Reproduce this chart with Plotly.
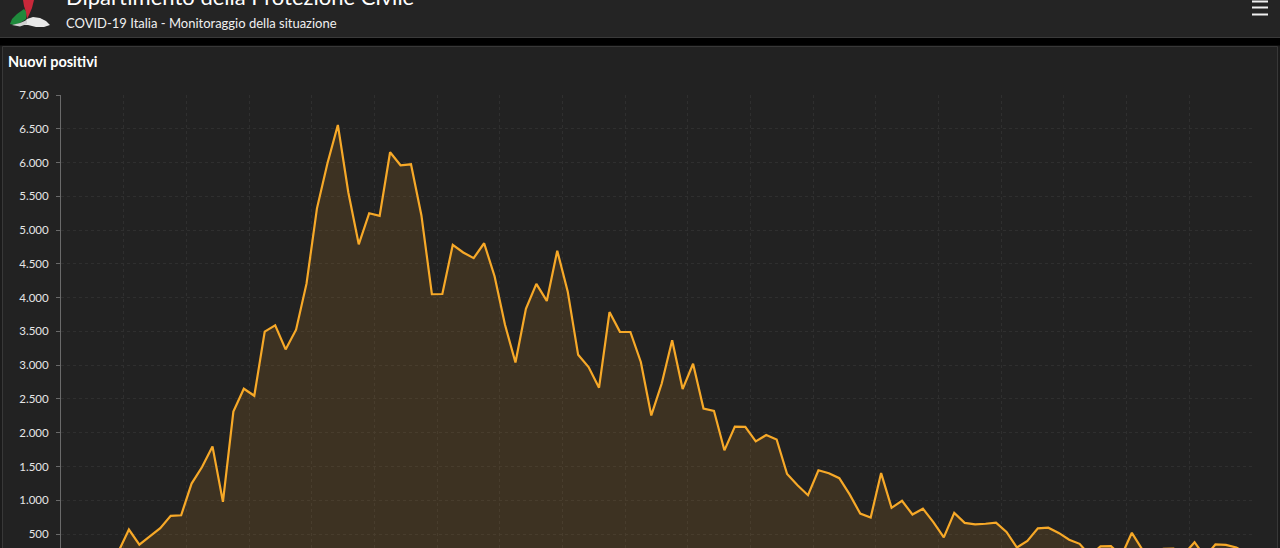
import plotly.graph_objects as go
import pandas as pd

# ---------------- data ----------------
start_date = "2020-02-24"
end_date = "2020-06-16"
dates = pd.date_range(start_date, end_date, freq="D").strftime("%Y-%m-%d").tolist()

nuovi_positivi = [
    221, 93, 78, 250, 238, 240,                                   # Feb 24-29
    566, 342, 466, 587, 769, 778, 1247, 1492, 1797, 977,          # Mar 1-10
    2313, 2651, 2547, 3497, 3590, 3233, 3526, 4207, 5322, 5986,   # Mar 11-20
    6557, 5560, 4789, 5249, 5210, 6153, 5959, 5974, 5217, 4050,   # Mar 21-30
    4053,                                                         # Mar 31
    4782, 4668, 4585, 4805, 4316, 3599, 3039, 3836, 4204, 3951,   # Apr 1-10
    4694, 4092, 3153, 2972, 2667, 3786, 3493, 3491, 3047, 2256,   # Apr 11-20
    2729, 3370, 2646, 3021, 2357, 2324, 1739, 2091, 2086, 1872,   # Apr 21-30
    1965, 1900, 1389, 1221, 1075, 1444, 1401, 1327, 1083, 802,    # May 1-10
    744, 1402, 888, 992, 789, 875, 675, 451, 813, 665,            # May 11-20
    642, 652, 669, 531, 300, 397, 584, 593, 516, 416, 355,        # May 21-31
    178, 318, 321, 177, 518, 270, 197, 280, 283, 202,             # Jun 1-10
    379, 163, 346, 338, 301, 210,                                 # Jun 11-16
]

y_ticks = list(range(500, 7001, 500))

header_title = "Dipartimento della Protezione Civile"
header_subtitle = "COVID-19 Italia - Monitoraggio della situazione"
panel_title = "Nuovi positivi"

# ---------------- layout helpers (pixel -> paper) ----------------
W, H = 1280, 548
L, R, T, B = 61, 1252, 95, 548


def px(x):
    return (x - L) / (R - L)


def py(y):
    return (B - y) / (B - T)


def path(points):
    s = "M " + " L ".join(f"{px(x):.5f},{py(y):.5f}" for x, y in points) + " Z"
    return s


shapes = []
# header background
shapes.append(dict(type="rect", xref="paper", yref="paper", layer="below",
                   x0=px(-2), x1=px(W + 2), y0=py(37), y1=py(-2),
                   fillcolor="#242424", line=dict(width=0)))
shapes.append(dict(type="line", xref="paper", yref="paper", layer="below",
                   x0=px(0), x1=px(W), y0=py(37.5), y1=py(37.5),
                   line=dict(color="#3a3a3a", width=1)))
# black band
shapes.append(dict(type="rect", xref="paper", yref="paper", layer="below",
                   x0=px(-2), x1=px(W + 2), y0=py(45.5), y1=py(38),
                   fillcolor="#000000", line=dict(width=0)))
# panel
shapes.append(dict(type="rect", xref="paper", yref="paper", layer="below",
                   x0=px(2.5), x1=px(1277.5), y0=py(570), y1=py(46.5),
                   fillcolor="#222222", line=dict(color="#383838", width=1)))
# hamburger icon
for yy in (1.5, 7.5, 14.5):
    shapes.append(dict(type="line", xref="paper", yref="paper",
                       x0=px(1252), x1=px(1268), y0=py(yy), y1=py(yy),
                       line=dict(color="#f0f0f0", width=2)))
# logo (approximate)
shapes.append(dict(type="path", xref="paper", yref="paper",
                   path=path([(10, 24), (12, 19), (17, 14), (24, 9), (27, 12), (26, 19), (20, 23), (14, 25)]),
                   fillcolor="#1f8a3c", line=dict(width=0)))
shapes.append(dict(type="path", xref="paper", yref="paper",
                   path=path([(23, 0), (34, 0), (32, 8), (29, 15), (27, 19), (26, 12), (24, 6)]),
                   fillcolor="#c8283a", line=dict(width=0)))
shapes.append(dict(type="path", xref="paper", yref="paper",
                   path=path([(27, 19), (33, 17), (40, 18), (46, 21), (50, 25), (44, 27), (36, 27), (28, 25), (22, 25)]),
                   fillcolor="#e8e8e8", line=dict(width=0)))
shapes.append(dict(type="path", xref="paper", yref="paper",
                   path=path([(12, 25), (20, 23), (27, 20), (27, 24), (20, 26.5)]),
                   fillcolor="#d0d0d0", line=dict(width=0)))

annotations = [
    dict(text=header_title, xref="paper", yref="paper", x=px(64), y=py(-4),
         xanchor="left", yanchor="middle", showarrow=False,
         font=dict(family="Lato, Open Sans, sans-serif", size=22, color="#ffffff")),
    dict(text=header_subtitle, xref="paper", yref="paper", x=px(64), y=py(23),
         xanchor="left", yanchor="middle", showarrow=False,
         font=dict(family="Lato, Open Sans, sans-serif", size=13, color="#f0f0f0")),
    dict(text="<b>" + panel_title + "</b>", xref="paper", yref="paper", x=px(6), y=py(61),
         xanchor="left", yanchor="middle", showarrow=False,
         font=dict(family="Lato, Open Sans, sans-serif", size=14.5, color="#ffffff")),
]

fig = go.Figure()
fig.add_trace(go.Scatter(
    x=dates, y=nuovi_positivi, mode="lines",
    line=dict(color="#f7a928", width=2.2),
    fill="tozeroy", fillcolor="rgba(245,166,35,0.13)",
    hoverinfo="x+y", showlegend=False,
))

fig.update_layout(
    width=W, height=H, autosize=False,
    margin=dict(l=L, r=W - R, t=T, b=H - B, pad=0),
    paper_bgcolor="#1b1b1b", plot_bgcolor="#222222",
    separators=",.",
    shapes=shapes, annotations=annotations,
    font=dict(family="Lato, Open Sans, sans-serif", color="#e6e6e6"),
    xaxis=dict(
        type="date",
        range=["2020-02-23 12:00", "2020-06-16 12:00"],
        tick0="2020-02-23 12:00", dtick=6 * 86400000,
        showticklabels=False, ticks="",
        showgrid=True, gridcolor="#2f2f2f", griddash="dot", gridwidth=1,
        zeroline=False, showline=False,
    ),
    yaxis=dict(
        range=[293, 7000],
        tickvals=y_ticks, tickformat=",d",
        tickfont=dict(size=11.5, color="#e6e6e6"),
        ticks="outside", ticklen=4, tickcolor="#6a6a6a",
        ticklabelstandoff=5,
        showline=True, linecolor="#6a6a6a", linewidth=1,
        showgrid=True, gridcolor="#2f2f2f", griddash="dot", gridwidth=1,
        zeroline=False,
    ),
)

fig.write_html(
    "out.html",
    config={"displayModeBar": False},
    post_script="document.body.style.margin='0';document.body.style.overflow='hidden';"
                "document.body.style.background='#1b1b1b';",
)
